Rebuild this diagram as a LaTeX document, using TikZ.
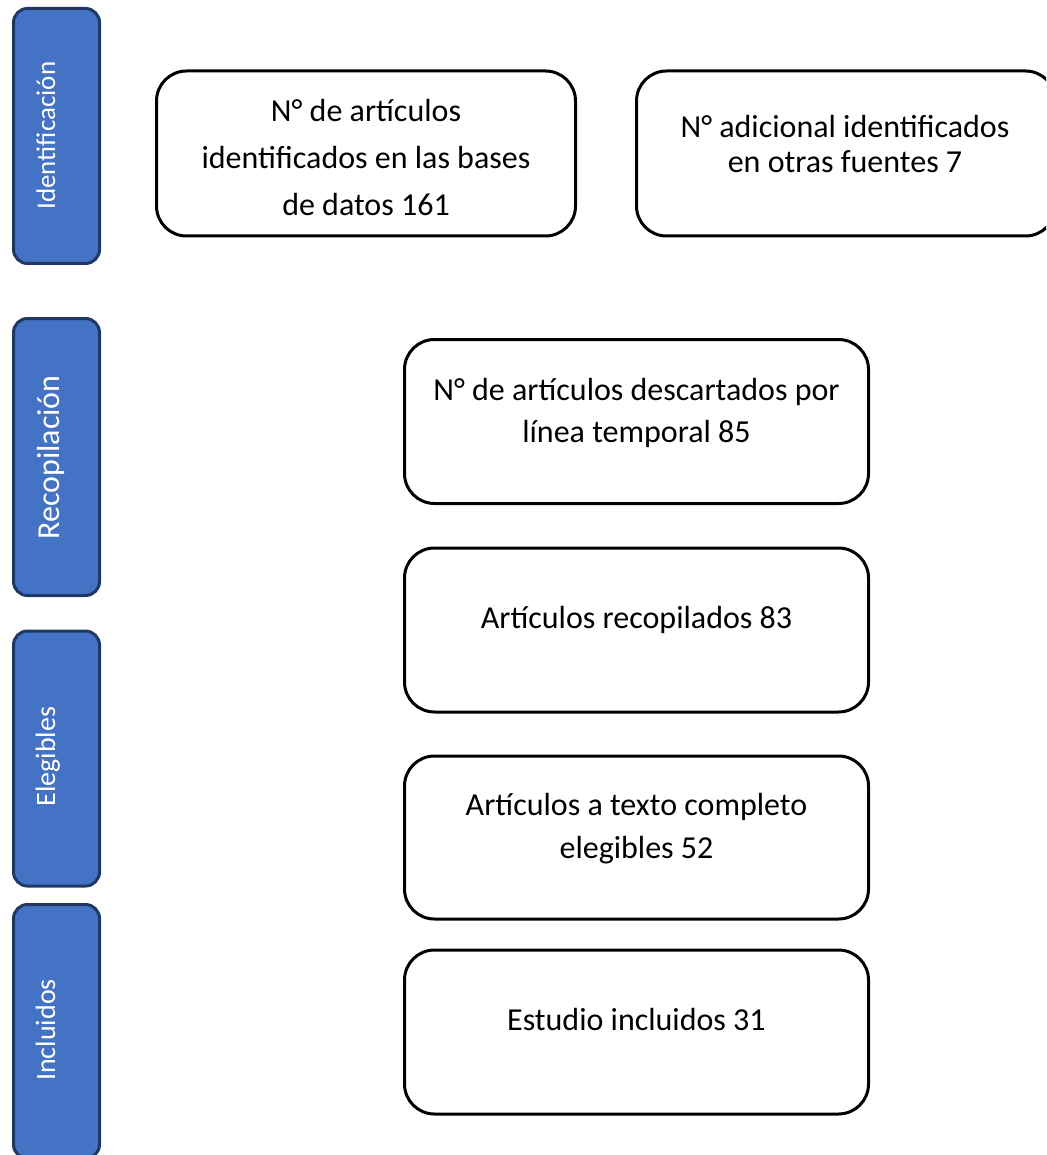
\documentclass[tikz,border=0pt]{standalone}
\usepackage{fontspec}
\setmainfont{Carlito}
\definecolor{barblue}{HTML}{4472C4}
\definecolor{bardark}{HTML}{1F3864}
\newcommand\boxlines[1]{\begin{tabular}[t]{@{}c@{}}#1\end{tabular}}
\begin{document}
\begin{tikzpicture}[x=1pt,y=-1pt,
  phasebar/.style={draw=bardark, fill=barblue, line width=3pt, rounded corners=14pt,
    minimum width=86pt, inner sep=0pt, rectangle},
  phaselabel/.style={text=white, rotate=90, anchor=base, inner sep=0pt},
  flowbox/.style={draw=black, line width=3pt, rounded corners=30pt, rectangle, inner sep=0pt},
  flowtext/.style={anchor=base, inner sep=0pt, text=black}
]
\useasboundingbox (0,0) rectangle (1046,1155);
\clip (0,0) rectangle (1046,1155);
\fill[white] (0,0) rectangle (1046,1155);

% phase bars
\node[phasebar, minimum height=255pt] (bar1) at (56.5,136) {};
\node[phasebar, minimum height=277pt] (bar2) at (56.5,457) {};
\node[phasebar, minimum height=255pt] (bar3) at (56.5,758.5) {};
\node[phasebar, minimum height=254pt] (bar4) at (56.5,1031.5) {};
\node[phaselabel, font=\fontsize{27}{32}\selectfont] (lab1) at (55,135.5) {Identificación};
\node[phaselabel, font=\fontsize{32}{38}\selectfont] (lab2) at (59,457.5) {Recopilación};
\node[phaselabel, font=\fontsize{28}{34}\selectfont] (lab3) at (55,756.5) {Elegibles};
\node[phaselabel, font=\fontsize{28}{34}\selectfont] (lab4) at (55,1030) {Incluidos};

% boxes
\node[flowbox, minimum width=419pt, minimum height=165pt] (boxA) at (366,153.5) {};
\node[flowbox, minimum width=419pt, minimum height=165pt] (boxB) at (846,153.5) {};
\node[flowbox, minimum width=464pt, minimum height=164pt] (boxC) at (636.5,421.5) {};
\node[flowbox, minimum width=464pt, minimum height=164pt] (boxD) at (636.5,630) {};
\node[flowbox, minimum width=464pt, minimum height=163pt] (boxE) at (636.5,837.5) {};
\node[flowbox, minimum width=464pt, minimum height=164pt] (boxF) at (636.5,1032) {};

% texts
\node[flowtext, font=\fontsize{32}{47}\selectfont] (tA) at (366,122)
  {\boxlines{N° de artículos\\identificados en las bases\\de datos 161}};
\node[flowtext, font=\fontsize{32}{35}\selectfont] (tB) at (845,138)
  {\boxlines{N° adicional identificados\\en otras fuentes 7}};
\node[flowtext, font=\fontsize{32}{42}\selectfont] (tC) at (636.5,400)
  {\boxlines{N° de artículos descartados por\\línea temporal 85}};
\node[flowtext, font=\fontsize{32}{42}\selectfont] (tD) at (636.5,628)
  {Artículos recopilados 83};
\node[flowtext, font=\fontsize{32}{43}\selectfont] (tE) at (636.5,815)
  {\boxlines{Artículos a texto completo\\elegibles 52}};
\node[flowtext, font=\fontsize{32}{42}\selectfont] (tF) at (636.5,1030)
  {Estudio incluidos 31};
\end{tikzpicture}
\end{document}
